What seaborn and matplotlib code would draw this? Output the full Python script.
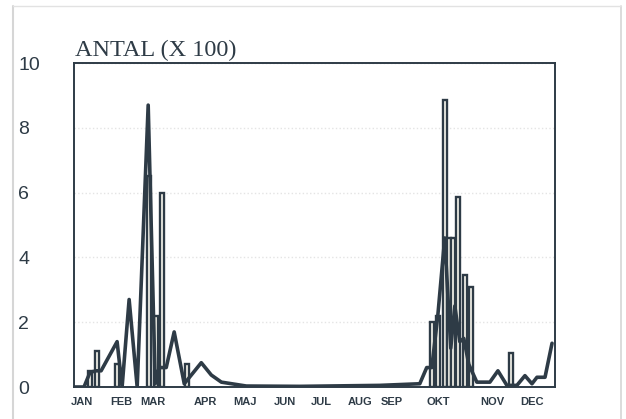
import matplotlib
matplotlib.use("Agg")
import matplotlib.pyplot as plt
from matplotlib.lines import Line2D
import seaborn as sns
import pandas as pd

# weekly counts (x 100), x in weeks of the year
line_week = [0.00, 1.08, 1.73, 2.38, 2.93, 4.66, 5.20, 5.96, 6.83, 8.02, 8.78, 9.21,
             9.97, 10.83, 11.92, 13.76, 14.84, 15.93, 18.63, 24.38, 33.04, 37.38,
             38.13, 38.68, 39.33, 40.08, 40.73, 41.17, 41.71, 42.14, 42.68, 43.55,
             44.96, 45.83, 46.80, 47.88, 48.75, 49.51, 50.05, 50.92, 51.68]
line_val = [0.0, 0.0, 0.45, 0.5, 0.5, 1.4, 0.0, 2.7, 0.0, 8.7, 0.1, 0.6,
            0.6, 1.7, 0.1, 0.75, 0.37, 0.15, 0.03, 0.02, 0.05, 0.1,
            0.6, 0.6, 2.2, 4.6, 1.2, 2.5, 1.4, 1.5, 0.7, 0.15,
            0.15, 0.5, 0.05, 0.05, 0.35, 0.1, 0.3, 0.3, 1.35]

bar_week = [1.73, 2.49, 4.66, 8.07, 8.88, 9.48, 12.24, 38.68, 39.38, 40.14,
            40.57, 41.0, 41.55, 42.25, 42.96, 47.29]
bar_val = [0.5, 1.1, 0.7, 6.5, 2.2, 6.0, 0.7, 2.0, 2.2, 8.85,
           4.6, 4.6, 5.85, 3.45, 3.1, 1.05]

month_pos = [0.87, 5.09, 8.56, 14.19, 18.53, 22.75, 26.76, 30.98, 34.34, 39.33, 45.18, 49.51]
month_lab = ["JAN", "FEB", "MAR", "APR", "MAJ", "JUN", "JUL", "AUG", "SEP", "OKT", "NOV", "DEC"]

ink = "#2e3b46"

sns.set_theme(style="white")
plt.rcParams["font.family"] = ["Liberation Sans", "DejaVu Sans"]

fig = plt.figure(figsize=(6.26, 4.19), dpi=100)
ax = fig.add_axes([74 / 626, 32 / 419, 481 / 626, 324 / 419])

ax.bar(bar_week, bar_val, width=0.42, color="#fffdf4", edgecolor=ink, linewidth=1.7, zorder=2)
df = pd.DataFrame({"week": line_week, "antal": line_val})
sns.lineplot(data=df, x="week", y="antal", color=ink, linewidth=2.6, ax=ax, zorder=3)

ax.set_xlim(0, 52)
ax.set_ylim(0, 10)
ax.set_xlabel("")
ax.set_ylabel("")
ax.set_yticks([0, 2, 4, 6, 8, 10])
ax.set_yticklabels(["0", "2", "4", "6", "8", "10"], fontsize=14, color=ink)
for lab in ax.get_yticklabels():
    lab.set_ha("left")
ax.tick_params(axis="y", pad=40, length=0)
ax.set_xticks(month_pos)
ax.set_xticklabels(month_lab, fontsize=8, fontweight="bold", color=ink)
ax.tick_params(axis="x", pad=7, length=0)
ax.grid(axis="y", color="#e4e4e4", linestyle=":", linewidth=1.0, zorder=0)

for s in ax.spines.values():
    s.set_color(ink)
    s.set_linewidth(1.4)

fig.text(75 / 626, 1 - 56 / 419, "ANTAL (X 100)", family="Liberation Serif",
         fontsize=17.5, color=ink, va="baseline")

# faint scan border
fig.add_artist(Line2D([13 / 626, 13 / 626], [0, 1 - 6 / 419], color="#d6d6d6", lw=1.5))
fig.add_artist(Line2D([621 / 626, 621 / 626], [0, 1 - 6 / 419], color="#d6d6d6", lw=1.2))
fig.add_artist(Line2D([13 / 626, 621 / 626], [1 - 6 / 419, 1 - 6 / 419], color="#e2e2e2", lw=1.0))

fig.savefig("out.png", dpi=100)
